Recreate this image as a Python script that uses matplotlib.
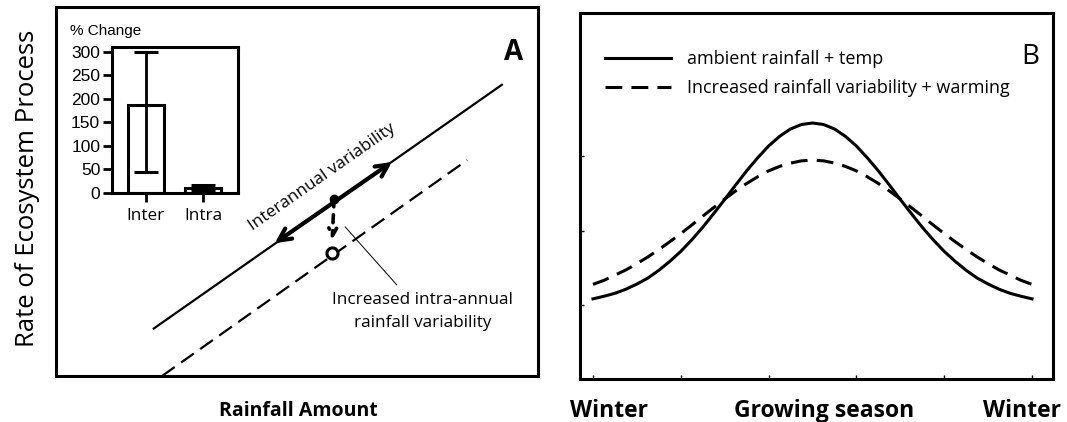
import matplotlib.pyplot as plt
from matplotlib.lines import Line2D

plt.rcParams['font.family'] = ['Open Sans', 'DejaVu Sans']

# --- Panel A: process rate against rainfall amount ---
ambient_x = [2.01, 9.27]
ambient_y = [1.27, 7.91]
variable_x = [2.20, 8.53]
variable_y = [0.00, 5.85]
interannual_x = [4.54, 6.97]
interannual_y = [3.60, 5.80]
mean_x, mean_y = 5.77, 4.80
shifted_x, shifted_y = 5.73, 3.33
arrow_tip_y = 3.69

# inset: % change of the process
groups = ['Inter', 'Intra']
pct_change = [187, 10]
pct_low = [45, 6]
pct_high = [300, 16]

# --- Panel B: course of the process over one year ---
season_x = [0.0, 0.125, 0.25, 0.375, 0.5, 0.625, 0.75, 0.875, 1.0, 1.125,
            1.25, 1.375, 1.5, 1.625, 1.75, 1.875, 2.0, 2.125, 2.25, 2.375,
            2.5, 2.625, 2.75, 2.875, 3.0, 3.125, 3.25, 3.375, 3.5, 3.625,
            3.75, 3.875, 4.0, 4.125, 4.25, 4.375, 4.5, 4.625, 4.75, 4.875, 5.0]
ambient_rate = [2.16, 2.23, 2.31, 2.42, 2.56, 2.72, 2.93, 3.17, 3.44, 3.75,
                4.09, 4.46, 4.84, 5.23, 5.61, 5.96, 6.28, 6.54, 6.74, 6.86,
                6.90, 6.86, 6.74, 6.54, 6.28, 5.96, 5.61, 5.23, 4.84, 4.46,
                4.09, 3.75, 3.44, 3.17, 2.93, 2.72, 2.56, 2.42, 2.31, 2.23, 2.16]
warming_rate = [2.55, 2.66, 2.80, 2.94, 3.11, 3.29, 3.49, 3.70, 3.92, 4.15,
                4.39, 4.62, 4.85, 5.07, 5.27, 5.45, 5.61, 5.73, 5.82, 5.88,
                5.90, 5.88, 5.82, 5.73, 5.61, 5.45, 5.27, 5.07, 4.85, 4.62,
                4.39, 4.15, 3.92, 3.70, 3.49, 3.29, 3.11, 2.94, 2.80, 2.66, 2.55]
season_labels = ['Winter', 'Growing season', 'Winter']

W, H = 1067, 422
fig = plt.figure(figsize=(W / 100, H / 100), dpi=100)


def box(l, t, r, b):
    # pixel box -> figure fraction
    return [l / W, 1 - b / H, (r - l) / W, (b - t) / H]


# ---------------- A ----------------
axA = fig.add_axes(box(56, 7, 538, 376))
axA.set_xlim(0, 10)
axA.set_ylim(0, 10)
axA.set_xticks([])
axA.set_yticks([])
for s in axA.spines.values():
    s.set_linewidth(2.2)

axA.plot(ambient_x, ambient_y, color='black', lw=1.6, solid_capstyle='butt')
axA.plot(variable_x, variable_y, color='black', lw=1.6, dashes=(7, 3.5))

axA.annotate('', xy=(interannual_x[0], interannual_y[0]),
             xytext=(interannual_x[1], interannual_y[1]),
             arrowprops=dict(arrowstyle='<->', lw=3, color='black',
                             mutation_scale=22, shrinkA=0, shrinkB=0))
axA.annotate('', xy=(shifted_x, arrow_tip_y), xytext=(mean_x, mean_y),
             arrowprops=dict(arrowstyle='->', lw=2.6, color='black',
                             linestyle=(0, (2.2, 2.2)), mutation_scale=14,
                             shrinkA=0, shrinkB=0))
axA.plot(mean_x, mean_y, 'o', color='black', ms=6)
axA.plot(shifted_x, shifted_y, 'o', mfc='white', mec='black', mew=2.2, ms=8)

axA.text(5.52, 5.39, 'Interannual variability', rotation=35,
         ha='center', va='center', fontsize=12.3)
axA.plot([6.00, 7.07], [4.04, 2.47], color='black', lw=0.7)
axA.text(7.61, 1.75, 'Increased intra-annual\nrainfall variability',
         ha='center', va='center', fontsize=12.3, linespacing=1.55)
axA.text(9.50, 8.78, 'A', ha='center', va='center', fontsize=20,
         fontweight='bold')

# inset bar chart
axI = fig.add_axes(box(112, 47, 238, 193))
xpos = range(len(groups))
yerr = [[c - lo for c, lo in zip(pct_change, pct_low)],
        [hi - c for c, hi in zip(pct_change, pct_high)]]
axI.bar(xpos, pct_change, width=0.63, color='white', edgecolor='black',
        lw=2.2, zorder=2)
axI.errorbar(xpos, pct_change, yerr=yerr, fmt='none', ecolor='black',
             elinewidth=2, capsize=8.5, capthick=2.2, zorder=3)
axI.set_xlim(-0.596, 1.614)
axI.set_ylim(0, 310.6)
axI.set_yticks(range(0, 301, 50))
axI.set_xticks(list(xpos))
axI.set_xticklabels(groups, fontsize=12.3)
axI.tick_params(axis='y', labelsize=12.5, length=6.5, width=2, pad=2)
axI.tick_params(axis='x', length=6.5, width=2, pad=4)
for lab in axI.get_yticklabels():
    lab.set_family(['Liberation Sans', 'DejaVu Sans'])
for s in axI.spines.values():
    s.set_linewidth(2.2)
fig.text(70 / W, 1 - 31 / H, '% Change', ha='left', va='center',
         fontsize=11, family=['Liberation Sans', 'DejaVu Sans'])

# ---------------- B ----------------
axB = fig.add_axes(box(580, 13, 1053, 379))
axB.plot(season_x, ambient_rate, color='black', lw=2.2)
axB.plot(season_x, warming_rate, color='black', lw=2.2, dashes=(5.5, 3))
axB.set_xlim(-0.148, 5.239)
axB.set_ylim(0, 9.865)
axB.set_xticks(range(6))
axB.set_yticks([2, 4, 6])
axB.tick_params(direction='in', length=3, width=1, labelbottom=False,
                labelleft=False)
for s in axB.spines.values():
    s.set_linewidth(2.2)
axB.text(4.98, 8.68, 'B', ha='center', va='center', fontsize=20)
axB.legend(handles=[Line2D([], [], color='black', lw=2.2),
                    Line2D([], [], color='black', lw=2.2, dashes=(5.5, 3))],
           labels=['ambient rainfall + temp',
                   'Increased rainfall variability + warming'],
           loc='upper left', bbox_to_anchor=((605 - 580) / 473, (379 - 50) / 366),
           frameon=False, fontsize=13, handlelength=3.65, handletextpad=0.9,
           borderpad=0, borderaxespad=0, labelspacing=0.62)

# axis captions
fig.text(28 / W, 1 - 188 / H, 'Rate of Ecosystem Process', rotation=90,
         ha='center', va='center', fontsize=18.5)
fig.text(298 / W, 1 - 411 / H, 'Rainfall Amount', ha='center', va='center',
         fontsize=14, fontweight='bold')
for xpix, lab in zip([609, 824, 1022], season_labels):
    fig.text(xpix / W, 1 - 411 / H, lab, ha='center', va='center',
             fontsize=16.5, fontweight='bold')

fig.savefig('out.png', dpi=100)
